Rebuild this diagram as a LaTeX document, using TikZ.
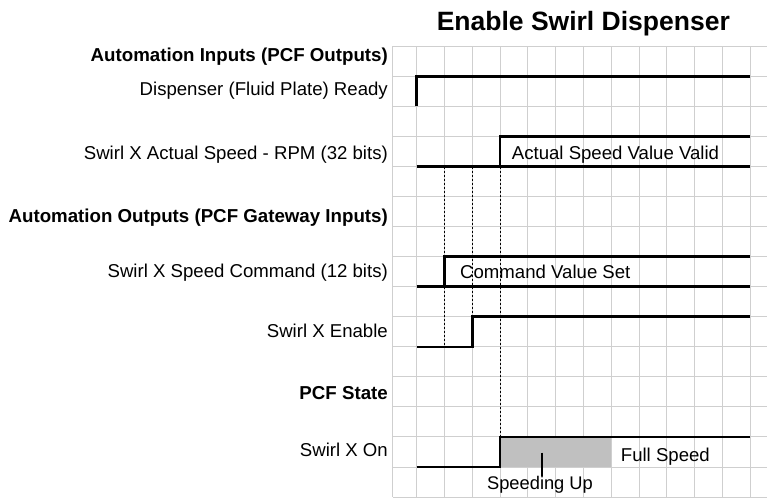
\documentclass[tikz,border=0pt]{standalone}
\usepackage{fontspec}
\setmainfont{Liberation Sans}
\definecolor{gridc}{HTML}{CFCFCF}
\definecolor{fillc}{HTML}{C0C0C0}
\begin{document}
\begin{tikzpicture}[x=1pt,y=-1pt,
  gridline/.style={draw=gridc, line width=1pt},
  sig/.style={draw=black, line width=2.6pt, line join=miter},
  guide/.style={draw=black, line width=0.9pt, dash pattern=on 2pt off 2pt},
  tick/.style={draw=black, line width=1.5pt},
  lbl/.style={anchor=base east, inner sep=0pt, font=\fontsize{18.6}{20}\selectfont},
  hdr/.style={anchor=base east, inner sep=0pt, font=\fontsize{18.7}{20}\selectfont\bfseries},
  inl/.style={anchor=base west, inner sep=0pt, font=\fontsize{18.6}{20}\selectfont},
  ttl/.style={anchor=base, inner sep=0pt, font=\fontsize{26.5}{30}\selectfont\bfseries}
]
\useasboundingbox (0,0) rectangle (767,500);
% grid
\foreach \k in {0,...,15} {
  \draw[gridline] (392.7,46.3+30.05*\k) -- (767,46.3+30.05*\k);
}
\draw[gridline] (392.7,46.3) -- (392.7,497.05);
\foreach \k in {0,...,12} {
  \draw[gridline] (416.7+27.8*\k,46.3) -- (416.7+27.8*\k,497.05);
}
% speeding-up region
\fill[fillc] (500.1,436.95) rectangle (611.3,467.0);
% guides
\draw[guide] (444.5,166.5) -- (444.5,346.8);
\draw[guide] (472.3,166.5) -- (472.3,316.75);
\draw[guide] (500.1,166.5) -- (500.1,436.95);
% signals
\draw[sig] (416.7,106.4) -- (416.7,76.35) -- (750.3,76.35);
\draw[sig] (416.7,166.5) -- (750.3,166.5);
\draw[sig] (500.1,166.5) -- (500.1,136.45) -- (750.3,136.45);
\draw[sig] (416.7,286.7) -- (750.3,286.7);
\draw[sig] (444.5,286.7) -- (444.5,256.65) -- (750.3,256.65);
\draw[sig] (416.7,346.8) -- (472.3,346.8) -- (472.3,316.75) -- (750.3,316.75);
\draw[sig] (416.7,467.0) -- (500.1,467.0) -- (500.1,436.95) -- (750.3,436.95);
% title
\node[ttl] (title) at (583.3,30.7) {Enable Swirl Dispenser};
% labels
\node[hdr] (hin) at (388,61.5) {Automation Inputs (PCF Outputs)};
\node[lbl] (ready) at (388,95.5) {Dispenser (Fluid Plate) Ready};
\node[lbl] (actual) at (388,159) {Swirl X Actual Speed - RPM (32 bits)};
\node[hdr] (hout) at (388,222.5) {Automation Outputs (PCF Gateway Inputs)};
\node[lbl] (cmd) at (388,277.7) {Swirl X Speed Command (12 bits)};
\node[lbl] (enable) at (388,337.5) {Swirl X Enable};
\node[hdr] (state) at (388,399.5) {PCF State};
\node[lbl] (on) at (388,456) {Swirl X On};
% inline texts
\node[inl] (valid) at (511.7,159.5) {Actual Speed Value Valid};
\node[inl] (cmdset) at (460,278) {Command Value Set};
\node[inl] (full) at (620.7,461.5) {Full Speed};
\node[anchor=base, inner sep=0pt, font=\fontsize{18.3}{20}\selectfont] (su) at (540,489) {Speeding Up};
\coordinate (sutop) at (542,452.5);
\draw[tick] (sutop) -- (sutop |- su.north);
\end{tikzpicture}
\end{document}
